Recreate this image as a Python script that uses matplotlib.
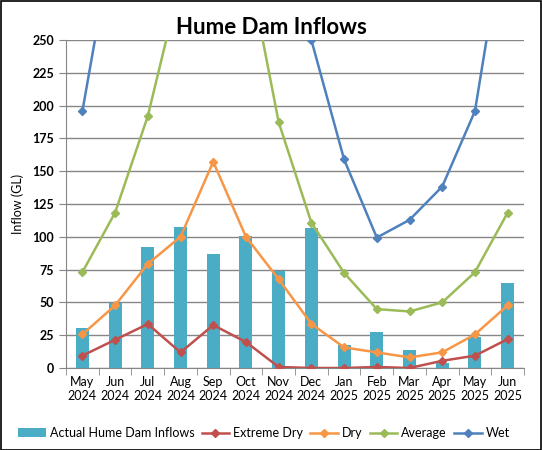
import numpy as np
import matplotlib.pyplot as plt
from matplotlib.patches import Rectangle

plt.rcParams["font.family"] = ["Lato", "DejaVu Sans"]

months = ["May\n2024", "Jun\n2024", "Jul\n2024", "Aug\n2024", "Sep\n2024", "Oct\n2024",
          "Nov\n2024", "Dec\n2024", "Jan\n2025", "Feb\n2025", "Mar\n2025", "Apr\n2025",
          "May\n2025", "Jun\n2025"]
actual = [30.7, 49.5, 92, 107.5, 87, 100.5, 73.8, 106.8, 17.5, 27.6, 13.9, 3.8, 24, 64.7]
extreme_dry = [9.4, 21.5, 33.5, 11.9, 32.7, 19.8, 0.8, 0, 0, 0.8, 0, 5.5, 9.4, 22]
dry = [25.6, 47.7, 79.4, 100, 157.2, 100, 67.7, 33.7, 15.7, 11.9, 8.1, 11.9, 25.6, 47.7]
# Aug-Oct run above the axis top, estimated from line slopes
average = [73, 118.4, 192, 295, 350, 316, 187.4, 110.8, 72.5, 44.9, 43.1, 50, 73, 118.4]
# Jun-Nov run above the axis top
wet = [195.7, 337, 480, 560, 600, 520, 400, 250, 159, 99.4, 112.9, 138.3, 195.8, 349]

x = np.arange(len(months))
grey = "#868686"

fig = plt.figure(figsize=(5.42, 4.5), dpi=100)
ax = fig.add_axes([0.1218, 0.1822, 0.845, 0.7289])

bars = ax.bar(x, actual, width=0.4, color="#4BACC6", label="Actual Hume Dam Inflows", zorder=2)
l1, = ax.plot(x, extreme_dry, color="#C0504D", marker="D", markersize=4.5, lw=1.8, label="Extreme Dry", zorder=3)
l2, = ax.plot(x, dry, color="#F79646", marker="D", markersize=4.5, lw=1.8, label="Dry", zorder=3)
l3, = ax.plot(x, average, color="#9BBB59", marker="D", markersize=4.5, lw=1.8, label="Average", zorder=3)
l4, = ax.plot(x, wet, color="#4F81BD", marker="D", markersize=4.5, lw=1.8, label="Wet", zorder=3)

ax.set_xlim(-0.5, len(months) - 0.5)
ax.set_ylim(0, 250)
ax.set_yticks(np.arange(0, 251, 25))
ax.set_xticks(x)
ax.set_xticklabels(months, fontsize=9)
ax.set_xticks(np.arange(-0.5, len(months), 1), minor=True)
ax.tick_params(axis="x", which="major", length=0, pad=6)
ax.tick_params(axis="x", which="minor", length=5, color=grey, direction="out")
ax.tick_params(axis="y", length=5, color=grey, labelsize=9)
for lab in ax.get_yticklabels():
    lab.set_fontweight("bold")

ax.grid(axis="y", color=grey, lw=1, zorder=0)
ax.set_axisbelow(True)
for s in ["top", "right"]:
    ax.spines[s].set_visible(False)
ax.spines["left"].set_color(grey)
ax.spines["bottom"].set_color(grey)

ax.set_ylabel("Inflow (GL)", fontsize=9, labelpad=6)
fig.text(0.5, 0.94, "Hume Dam Inflows", ha="center", va="center", fontsize=16, fontweight="bold")

fig.legend(handles=[bars, l1, l2, l3, l4], loc="center", bbox_to_anchor=(0.487, 0.038),
           ncol=5, frameon=False, fontsize=9, handlelength=2.2, handletextpad=0.3,
           columnspacing=0.6)

fig.add_artist(Rectangle((0.001, 0.001), 0.997, 0.997, transform=fig.transFigure,
                         fill=False, edgecolor="black", lw=1.2))

fig.savefig("out.png", dpi=100)
